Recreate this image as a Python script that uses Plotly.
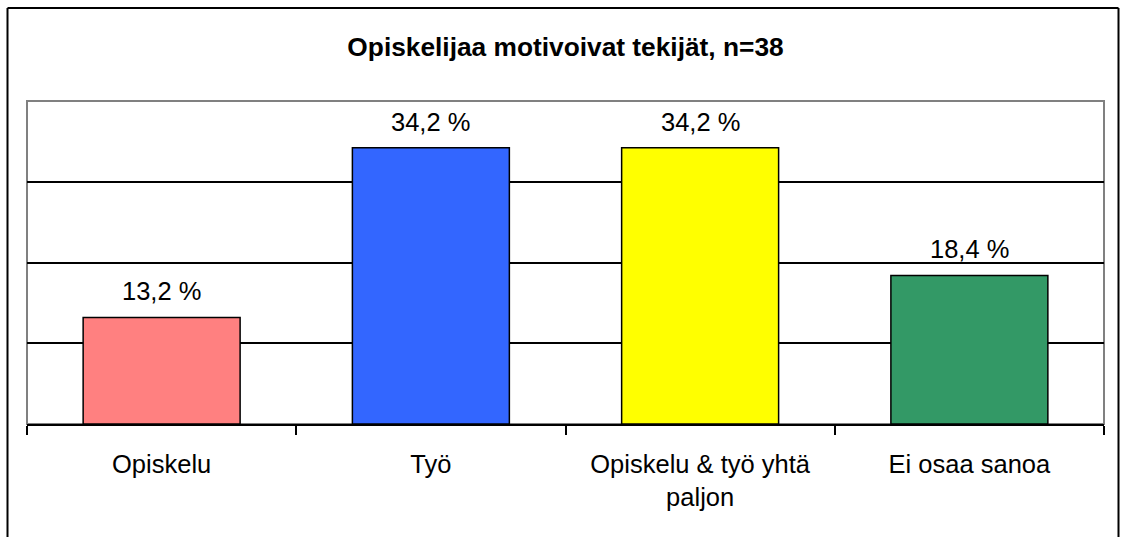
import plotly.graph_objects as go

categories = ["Opiskelu", "Työ", "Opiskelu & työ yhtä<br>paljon", "Ei osaa sanoa"]
values = [13.2, 34.2, 34.2, 18.4]
bar_colors = ["#FF8080", "#3366FF", "#FFFF00", "#339966"]
y_ticks = [0, 10, 20, 30, 40]
title_text = "Opiskelijaa motivoivat tekijät, n=38"

W, H = 1122, 537
ML, MR, MT, MB = 27, 18, 101, 113
PW, PH = W - ML - MR, H - MT - MB

FONT = "Arial, 'Liberation Sans', sans-serif"

def px2x(p):
    return (p - ML) / PW

def px2y(p):
    return (H - MB - p) / PH

labels = [f"{v:.1f} %".replace(".", ",") for v in values]

fig = go.Figure()
fig.add_trace(go.Bar(
    x=categories, y=values,
    marker=dict(color=bar_colors, line=dict(color="#000000", width=1.5)),
    hoverinfo="skip",
))

for c, v, t in zip(categories, values, labels):
    fig.add_annotation(x=c, y=v, text=t, showarrow=False, yanchor="bottom",
                       yshift=10, font=dict(family=FONT, size=25.5, color="#000000"))

shapes = [
    # plot frame (gray)
    dict(type="rect", xref="paper", yref="paper", x0=0, x1=1, y0=0, y1=1,
         line=dict(color="#808080", width=2), layer="below"),
    # outer chart border (black), left, top, right
    dict(type="line", xref="paper", yref="paper", x0=px2x(7.5), x1=px2x(7.5),
         y0=px2y(8), y1=px2y(560), line=dict(color="#000000", width=2)),
    dict(type="line", xref="paper", yref="paper", x0=px2x(7.5), x1=px2x(1118.5),
         y0=px2y(8), y1=px2y(8), line=dict(color="#000000", width=2)),
    dict(type="line", xref="paper", yref="paper", x0=px2x(1118.5), x1=px2x(1118.5),
         y0=px2y(8), y1=px2y(560), line=dict(color="#000000", width=2)),
    # gray top line of plot area over the top gridline
    dict(type="line", xref="paper", yref="paper", x0=0, x1=1, y0=1, y1=1,
         line=dict(color="#808080", width=2), layer="above"),
]

fig.update_layout(
    width=W, height=H,
    margin=dict(l=ML, r=MR, t=MT, b=MB, pad=0),
    paper_bgcolor="#FFFFFF", plot_bgcolor="#FFFFFF",
    showlegend=False,
    bargap=0.417,
    font=dict(family=FONT, size=25.5, color="#000000"),
    title=dict(text="<b>" + title_text + "</b>", x=(ML + PW / 2) / W,
               xanchor="center", y=1 - 47 / H, yanchor="middle",
               font=dict(family=FONT, size=26.3, color="#000000")),
    shapes=shapes,
)

fig.update_xaxes(
    showline=True, linecolor="#000000", linewidth=2,
    ticks="outside", tickson="boundaries", ticklen=9, tickwidth=1.5, tickcolor="#000000",
    tickfont=dict(family=FONT, size=25.5, color="#000000"),
    ticklabelstandoff=16,
    showgrid=False, zeroline=False, fixedrange=True,
)
fig.update_yaxes(
    range=[y_ticks[0], y_ticks[-1]], tickmode="array", tickvals=y_ticks,
    showticklabels=False, ticks="",
    showgrid=True, gridcolor="#000000", gridwidth=1.5,
    zeroline=False, showline=False, fixedrange=True,
)

fig.write_html(
    "out.html",
    config={"displayModeBar": False},
    post_script="document.body.style.margin='0';document.body.style.overflow='hidden';",
)
